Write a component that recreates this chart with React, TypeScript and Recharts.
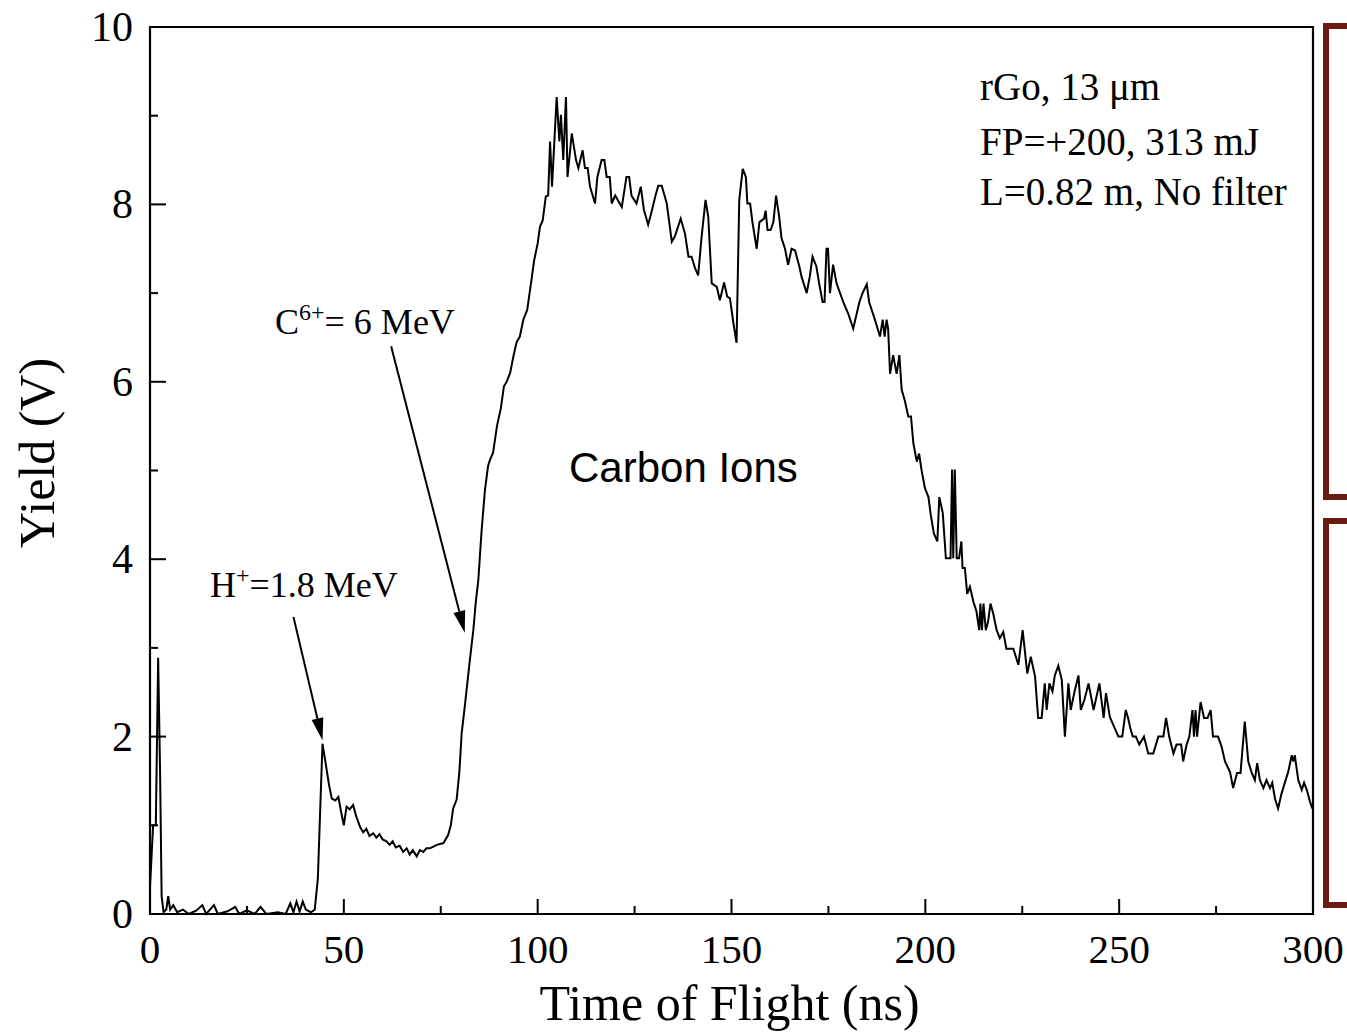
import { LineChart, Line, XAxis, YAxis, ReferenceArea, ReferenceLine } from 'recharts';

// time of flight (ns) and detector yield (V)
const tofNs = [
  0, 0.8, 1.5, 2.1, 2.6, 3.0, 3.5, 4.2, 4.7, 5.2, 6, 7, 8.5, 10, 12, 13.5, 14.5, 16.5, 17.5, 20,
  22, 23, 25, 27, 28.5, 30, 33, 35, 36.2, 37, 37.8, 38.6, 39.4, 40.2, 41.5, 42.5, 43.3, 44.0, 44.5, 45.3,
  46.2, 46.9, 47.8, 48.6, 49.3, 50.0, 50.7, 51.5, 52.4, 53.2, 54.2, 55, 55.8, 56.6, 57.6, 58.4, 59.2, 60.0, 61.0, 61.8,
  62.6, 63.4, 64.4, 65.3, 66.2, 67.0, 67.8, 68.8, 69.6, 70.5, 71.3, 72.2, 73.1, 74.0, 75.7, 76.9, 77.6, 78.2, 79.1, 79.8,
  80.4, 81.2, 82.5, 83.4, 84.0, 84.7, 85.5, 86.4, 87.2, 87.7, 88.5, 89.5, 90.5, 91.3, 92.0, 92.9, 93.8, 94.6, 95.4, 96.3,
  97.3, 98.4, 99.1, 100.0, 100.6, 101.3, 102.1, 102.7, 103.2, 103.7, 104.9, 105.6, 106.0, 106.6, 107.3, 107.7, 108.8, 109.9, 110.5, 111.6,
  112.2, 112.9, 113.5, 114.8, 115.4, 116.5, 117.2, 117.8, 118.6, 119.1, 120.0, 121.7, 122.9, 123.6, 124.2, 125.5, 126.6, 127.4, 128.5, 129.4,
  130.4, 131.1, 132.0, 132.8, 133.3, 134.6, 135.4, 136.9, 138.0, 138.9, 139.7, 140.6, 141.4, 142.3, 143.3, 144.0, 144.9, 146.2, 147.0, 148.1,
  148.9, 149.6, 150.5, 151.3, 152.0, 152.9, 153.7, 154.1, 154.8, 155.4, 156.5, 157.2, 158.4, 158.8, 159.3, 160.1, 160.8, 161.5, 162.3, 162.9,
  163.8, 164.6, 165.5, 166.4, 167.5, 168.1, 169.4, 170.2, 170.9, 171.9, 172.6, 173.5, 174.0, 174.5, 174.9, 175.4, 176.2, 177.1, 178.0, 179.0,
  180.1, 181.4, 183.0, 183.8, 184.9, 185.5, 187.0, 188.3, 189.0, 189.5, 190.0, 190.4, 190.9, 191.7, 192.6, 193.3, 193.9, 194.7, 195.6, 196.3,
  196.9, 197.8, 198.4, 199.0, 199.9, 200.8, 201.4, 202.2, 203.1, 203.6, 204.5, 205.3, 206.5, 206.9, 207.2, 207.6, 208.1, 208.7, 209.3, 209.6,
  210.2, 210.8, 211.5, 212.4, 213.2, 213.9, 214.2, 214.6, 215.0, 215.6, 216.2, 216.8, 217.5, 218.4, 219.2, 220.1, 220.9, 222.7, 224.0, 225.1,
  226.3, 227.2, 228.3, 229.1, 230.0, 230.8, 231.3, 232.0, 232.8, 233.4, 234.3, 235.2, 236.0, 236.9, 237.5, 238.4, 239.5, 240.1, 241.0, 242.1,
  243.4, 244.9, 246.0, 246.6, 247.6, 248.9, 249.8, 250.8, 251.7, 252.3, 252.9, 253.5, 254.3, 255.2, 256.4, 257.5, 258.8, 260.1, 261.4, 262.1,
  262.9, 264.0, 264.8, 266.0, 266.5, 267.4, 268.1, 268.9, 269.3, 269.7, 270.1, 271.0, 271.9, 272.8, 273.6, 274.2, 275.5, 276.4, 277.3, 278.6,
  279.4, 280.4, 281.3, 282.4, 283.3, 284.2, 285.0, 285.6, 286.3, 287.2, 288.0, 288.9, 289.5, 290.2, 291.0, 291.9, 292.8, 293.6, 294.5, 294.9,
  295.3, 296.2, 297.1, 297.7, 298.4, 299.2, 299.8,
];

const yieldV = [
  0.3, 1.0, 1.0, 2.89, 1.6, 0.2, 0.02, 0.05, 0.2, 0.05, 0.1, 0.02, 0.05, 0.0, 0.04, 0.1, 0.0, 0.1, 0.0, 0.03,
  0.08, 0.0, 0.04, 0.0, 0.08, 0.0, 0.02, 0.0, 0.12, 0.02, 0.14, 0.03, 0.14, 0.05, 0.02, 0.05, 0.4, 1.3, 1.92, 1.7,
  1.45, 1.30, 1.28, 1.32, 1.15, 1.0, 1.21, 1.18, 1.23, 1.10, 0.98, 0.92, 0.96, 0.88, 0.91, 0.86, 0.90, 0.84, 0.82, 0.78,
  0.82, 0.75, 0.77, 0.70, 0.74, 0.67, 0.72, 0.65, 0.72, 0.70, 0.74, 0.74, 0.76, 0.78, 0.80, 0.89, 1.0, 1.19, 1.29, 1.6,
  2.04, 2.34, 2.86, 3.20, 3.5, 3.77, 4.3, 4.78, 5.05, 5.12, 5.2, 5.5, 5.7, 5.95, 6.0, 6.1, 6.3, 6.45, 6.51, 6.7,
  6.81, 7.15, 7.37, 7.56, 7.75, 7.82, 8.09, 8.1, 8.71, 8.20, 9.21, 8.71, 9.01, 8.50, 9.21, 8.31, 8.80, 8.50, 8.41, 8.61,
  8.41, 8.41, 8.20, 8.01, 8.31, 8.50, 8.50, 8.31, 8.31, 8.01, 8.10, 7.97, 8.31, 8.31, 8.10, 8.01, 8.20, 7.94, 7.77, 7.92,
  8.1, 8.21, 8.21, 8.09, 8.01, 7.58, 7.64, 7.84, 7.67, 7.41, 7.41, 7.28, 7.20, 7.64, 8.05, 7.86, 7.11, 7.07, 6.92, 7.12,
  6.96, 6.94, 6.66, 6.44, 8.05, 8.40, 8.31, 8.01, 8.01, 7.80, 7.50, 7.80, 7.84, 7.93, 7.71, 7.71, 7.80, 8.10, 7.86, 7.62,
  7.50, 7.32, 7.50, 7.48, 7.30, 7.18, 7.00, 7.19, 7.41, 7.30, 7.11, 6.90, 6.90, 7.50, 7.50, 7.00, 7.32, 7.11, 7.00, 6.88,
  6.77, 6.60, 6.90, 7.00, 7.10, 6.90, 6.70, 6.51, 6.70, 6.51, 6.70, 6.60, 6.09, 6.30, 6.09, 6.30, 5.91, 5.79, 5.61, 5.61,
  5.31, 5.10, 5.19, 5.01, 4.80, 4.70, 4.50, 4.29, 4.20, 4.70, 4.52, 4.01, 4.01, 5.01, 4.01, 5.01, 4.01, 4.01, 4.20, 3.90,
  3.90, 3.61, 3.69, 3.52, 3.41, 3.20, 3.50, 3.20, 3.50, 3.20, 3.30, 3.50, 3.39, 3.20, 3.11, 3.18, 2.99, 2.99, 2.81, 3.20,
  2.71, 2.90, 2.68, 2.21, 2.21, 2.60, 2.30, 2.60, 2.51, 2.69, 2.80, 2.64, 2.00, 2.60, 2.30, 2.49, 2.69, 2.30, 2.41, 2.60,
  2.30, 2.60, 2.21, 2.49, 2.22, 2.09, 2.00, 2.00, 2.30, 2.21, 2.09, 2.00, 2.00, 1.91, 2.00, 1.81, 1.81, 2.00, 2.00, 2.21,
  2.00, 1.81, 1.91, 1.91, 1.72, 1.91, 2.00, 2.30, 2.00, 2.30, 2.00, 2.39, 2.21, 2.21, 2.30, 2.00, 2.00, 1.89, 1.72, 1.60,
  1.42, 1.59, 1.59, 2.17, 1.72, 1.59, 1.51, 1.70, 1.51, 1.42, 1.51, 1.42, 1.48, 1.30, 1.19, 1.36, 1.49, 1.60, 1.79, 1.72,
  1.79, 1.51, 1.40, 1.48, 1.40, 1.27, 1.19,
];

const xTickValues = [0, 25, 50, 75, 100, 125, 150, 175, 200, 225, 250, 275, 300];
const yTickValues = [0, 1, 2, 3, 4, 5, 6, 7, 8, 9, 10];

// arrow annotations: [from, to] in (ns, V)
const carbonArrow = [{ x: 62.2, y: 6.4 }, { x: 81.2, y: 3.17 }];
const protonArrow = [{ x: 37.0, y: 3.35 }, { x: 44.5, y: 1.96 }];

const data = tofNs.map((t, i) => ({ t, v: yieldV[i] }));

const SERIF = '"Liberation Serif", "Times New Roman", serif';
const SANS = '"Liberation Sans", Arial, sans-serif';
const BRACKET = '#6b1b0f';

const TICK_GAP = 20;

function XTick(props: any) {
  const { x, y, payload } = props;
  const axisY = y - TICK_GAP;
  const major = payload.value % 50 === 0;
  return (
    <g>
      <line x1={x} x2={x} y1={axisY} y2={axisY - (major ? 15 : 8)} stroke="#000" strokeWidth={2} />
      {major && (
        <text x={x} y={axisY + 49} textAnchor="middle" fontFamily={SERIF} fontSize={41} fill="#000">
          {payload.value}
        </text>
      )}
    </g>
  );
}

function YTick(props: any) {
  const { x, y, payload } = props;
  const axisX = x + TICK_GAP;
  const major = payload.value % 2 === 0;
  return (
    <g>
      <line x1={axisX} x2={axisX + (major ? 16 : 8)} y1={y} y2={y} stroke="#000" strokeWidth={2} />
      {major && (
        <text x={axisX - 17} y={y + 14} textAnchor="end" fontFamily={SERIF} fontSize={42} fill="#000">
          {payload.value}
        </text>
      )}
    </g>
  );
}

function Arrow(props: any) {
  const { x1, y1, x2, y2 } = props;
  const dx = x2 - x1;
  const dy = y2 - y1;
  const len = Math.sqrt(dx * dx + dy * dy);
  const ux = dx / len;
  const uy = dy / len;
  const head = 22;
  const half = 6;
  const bx = x2 - ux * head;
  const by = y2 - uy * head;
  return (
    <g>
      <line x1={x1} y1={y1} x2={bx} y2={by} stroke="#000" strokeWidth={2} />
      <polygon
        points={`${x2},${y2} ${bx - uy * half},${by + ux * half} ${bx + uy * half},${by - ux * half}`}
        fill="#000"
      />
    </g>
  );
}

function XTitle(props: any) {
  const { viewBox } = props;
  return (
    <text x={viewBox.x + viewBox.width / 2 - 2} y={viewBox.y + 106} textAnchor="middle" fontFamily={SERIF} fontSize={50} fill="#000">
      Time of Flight (ns)
    </text>
  );
}

function YTitle() {
  return (
    <text transform="translate(54, 453) rotate(-90)" textAnchor="middle" fontFamily={SERIF} fontSize={50} fill="#000">
      Yield (V)
    </text>
  );
}

export default function App() {
  return (
    <div style={{ position: 'absolute', left: 0, top: 0, width: 1347, height: 1032, background: '#fff' }}>
      <LineChart width={1347} height={1032} data={data} margin={{ top: 27, right: 34, left: 0, bottom: 0 }}>
        <XAxis
          dataKey="t"
          type="number"
          domain={[0, 300]}
          ticks={xTickValues}
          interval={0}
          tickSize={0}
          tickMargin={TICK_GAP}
          tickLine={false}
          axisLine={false}
          tick={<XTick />}
          height={118}
          label={{ content: <XTitle /> }}
        />
        <YAxis
          type="number"
          domain={[0, 10]}
          ticks={yTickValues}
          interval={0}
          tickSize={0}
          tickMargin={TICK_GAP}
          tickLine={false}
          axisLine={false}
          tick={<YTick />}
          width={150}
          label={{ content: <YTitle /> }}
        />
        <ReferenceArea x1={0} x2={300} y1={0} y2={10} fill="none" stroke="#000" strokeWidth={2.2} ifOverflow="visible" />
        <ReferenceLine segment={carbonArrow} shape={Arrow} ifOverflow="visible" />
        <ReferenceLine segment={protonArrow} shape={Arrow} ifOverflow="visible" />
        <Line
          type="linear"
          dataKey="v"
          stroke="#000"
          strokeWidth={2}
          dot={false}
          activeDot={false}
          isAnimationActive={false}
        />
      </LineChart>
      <svg
        width={1347}
        height={1032}
        style={{ position: 'absolute', left: 0, top: 0, pointerEvents: 'none' }}
      >
        <path d="M1347,26 H1326 V497 H1347" fill="none" stroke={BRACKET} strokeWidth={6} />
        <path d="M1347,521 H1326 V905 H1347" fill="none" stroke={BRACKET} strokeWidth={6} />
        <g fontFamily={SERIF} fontSize={39} fill="#000">
          <text x={980} y={100}>rGo, 13 μm</text>
          <text x={980} y={155}>FP=+200, 313 mJ</text>
          <text x={980} y={205}>L=0.82 m, No filter</text>
        </g>
        <text x={569} y={482} fontFamily={SANS} fontSize={42} fill="#000">Carbon Ions</text>
        <text x={275} y={334} fontFamily={SERIF} fontSize={36} fill="#000">
          C<tspan dy={-14} fontSize={24}>6+</tspan>
          <tspan dy={14}>= 6 MeV</tspan>
        </text>
        <text x={210} y={597} fontFamily={SERIF} fontSize={36} fill="#000">
          H<tspan dy={-14} fontSize={24}>+</tspan>
          <tspan dy={14}>=1.8 MeV</tspan>
        </text>
      </svg>
    </div>
  );
}
